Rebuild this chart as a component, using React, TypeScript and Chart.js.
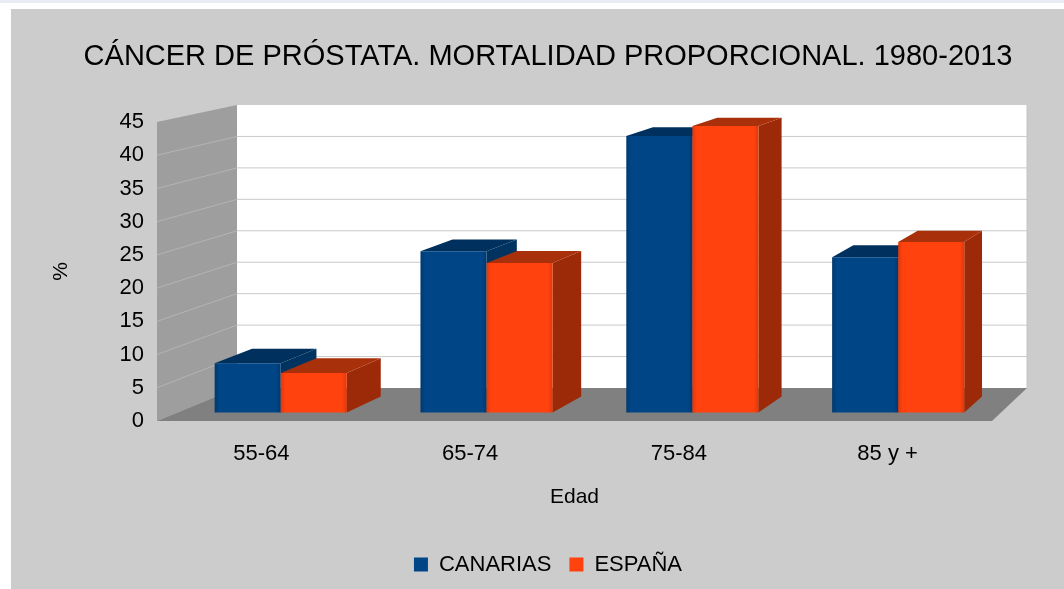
import React, { useEffect, useRef } from "react";
import { Chart, registerables } from "chart.js";

Chart.register(...registerables);

// ---------- data ----------
const TITLE = "CÁNCER DE PRÓSTATA. MORTALIDAD PROPORCIONAL. 1980-2013";
const CATEGORIES = ["55-64", "65-74", "75-84", "85 y +"];
const SERIES_NAMES = ["CANARIAS", "ESPAÑA"];
const CANARIAS = [7.5, 24.6, 42.2, 23.7];
const ESPANA = [6.0, 22.8, 43.7, 26.0];
const Y_MIN = 0;
const Y_MAX = 45;
const Y_STEP = 5;
const X_TITLE = "Edad";
const Y_TITLE = "%";

// ---------- style ----------
const FONT = "'Liberation Sans', Arial, sans-serif";
const FRONT = ["#004586", "#ff420e"];
const EDGE = ["#00396f", "#e2380b"];
const TOP = ["#00305d", "#a8300a"];
const SIDE = ["#00335f", "#9c2a08"];

// pseudo 3D geometry (pixels)
const DEPTH_X_LEFT = 80;
const DEPTH_X_RIGHT = 35;
const DEPTH_Y = 33;
const BACK_SCALE = 283 / 299;
const BAR_D1 = 0.26;
const BAR_D2 = 0.74;

type Pt = [number, number];

function makeProj(chart: any) {
  const { left, right } = chart.chartArea;
  const ys = chart.scales.y;
  const F0 = ys.getPixelForValue(0);
  const BL = left + DEPTH_X_LEFT;
  const BR = right + DEPTH_X_RIGHT;
  return (xf: number, yf: number, d: number): Pt => {
    const xb = BL + ((xf - left) * (BR - BL)) / (right - left);
    const yb = F0 - DEPTH_Y + (yf - F0) * BACK_SCALE;
    return [xf + d * (xb - xf), yf + d * (yb - yf)];
  };
}

function poly(ctx: CanvasRenderingContext2D, pts: Pt[], fill: any) {
  ctx.beginPath();
  ctx.moveTo(pts[0][0], pts[0][1]);
  for (let i = 1; i < pts.length; i++) ctx.lineTo(pts[i][0], pts[i][1]);
  ctx.closePath();
  ctx.fillStyle = fill;
  ctx.fill();
}

function line(ctx: CanvasRenderingContext2D, a: Pt, b: Pt, color: string) {
  ctx.beginPath();
  ctx.moveTo(a[0], a[1]);
  ctx.lineTo(b[0], b[1]);
  ctx.strokeStyle = color;
  ctx.lineWidth = 1;
  ctx.stroke();
}

const scenePlugin = {
  id: "scene3d",
  beforeDraw(chart: any) {
    const ctx: CanvasRenderingContext2D = chart.ctx;
    const { left, right } = chart.chartArea;
    const ys = chart.scales.y;
    const P = makeProj(chart);
    const F0 = ys.getPixelForValue(Y_MIN);
    const FT = ys.getPixelForValue(Y_MAX);
    ctx.save();
    ctx.fillStyle = "#cccccc";
    ctx.fillRect(0, 0, chart.width, chart.height);
    // back wall
    poly(ctx, [P(left, FT, 1), P(right, FT, 1), P(right, F0, 1), P(left, F0, 1)], "#ffffff");
    // left wall
    poly(ctx, [P(left, FT, 0), P(left, FT, 1), P(left, F0, 1), P(left, F0, 0)], "#9e9e9e");
    // floor
    poly(ctx, [P(left, F0, 0), P(right, F0, 0), P(right, F0, 1), P(left, F0, 1)], "#808080");
    // grid
    for (let v = Y_MIN + Y_STEP; v < Y_MAX; v += Y_STEP) {
      const yv = ys.getPixelForValue(v);
      line(ctx, P(left, yv, 1), P(right, yv, 1), "#cacaca");
      line(ctx, P(left, yv, 0), P(left, yv, 1), "#b4b4b4");
    }
    line(ctx, P(right, FT, 1), P(right, F0, 1), "#c4c4c4");
    ctx.restore();
  },
  beforeDatasetsDraw(chart: any) {
    const ctx: CanvasRenderingContext2D = chart.ctx;
    const ys = chart.scales.y;
    const P = makeProj(chart);
    const F0 = ys.getPixelForValue(0);
    const n = chart.data.labels.length;
    ctx.save();
    for (let j = 0; j < n; j++) {
      for (let i = 0; i < chart.data.datasets.length; i++) {
        const meta = chart.getDatasetMeta(i);
        const el: any = meta.data[j];
        if (!el) continue;
        const v = chart.data.datasets[i].data[j];
        const yv = ys.getPixelForValue(v);
        const xl = el.x - el.width / 2;
        const xr = el.x + el.width / 2;
        // right side
        poly(ctx, [P(xr, F0, BAR_D1), P(xr, yv, BAR_D1), P(xr, yv, BAR_D2), P(xr, F0, BAR_D2)], SIDE[i]);
        // top
        poly(ctx, [P(xl, yv, BAR_D1), P(xr, yv, BAR_D1), P(xr, yv, BAR_D2), P(xl, yv, BAR_D2)], TOP[i]);
        // front
        const a = P(xl, F0, BAR_D1);
        const b = P(xr, F0, BAR_D1);
        const c = P(xr, yv, BAR_D1);
        const d = P(xl, yv, BAR_D1);
        const g = ctx.createLinearGradient(a[0], 0, b[0], 0);
        g.addColorStop(0, EDGE[i]);
        g.addColorStop(0.07, FRONT[i]);
        g.addColorStop(0.93, FRONT[i]);
        g.addColorStop(1, EDGE[i]);
        poly(ctx, [a, b, c, d], g);
      }
    }
    ctx.restore();
    return false;
  },
};

export default function App() {
  const ref = useRef<HTMLCanvasElement | null>(null);

  useEffect(() => {
    if (!ref.current) return;
    Chart.defaults.font.family = FONT;
    const chart = new Chart(ref.current, {
      type: "bar",
      data: {
        labels: CATEGORIES,
        datasets: [
          {
            label: SERIES_NAMES[0],
            data: CANARIAS,
            backgroundColor: FRONT[0],
            borderWidth: 0,
            categoryPercentage: 0.642,
            barPercentage: 1,
          },
          {
            label: SERIES_NAMES[1],
            data: ESPANA,
            backgroundColor: FRONT[1],
            borderWidth: 0,
            categoryPercentage: 0.642,
            barPercentage: 1,
          },
        ],
      },
      options: {
        responsive: false,
        animation: false,
        events: [],
        layout: { padding: { left: 21, right: 0, top: 0, bottom: 3.5 } },
        plugins: {
          title: {
            display: true,
            text: TITLE,
            color: "#000",
            font: { size: 29, weight: "normal", family: FONT },
            padding: { top: 31, bottom: 47.2 },
          },
          legend: {
            display: true,
            position: "bottom",
            labels: {
              color: "#000",
              font: { size: 22, family: FONT },
              boxWidth: 14,
              boxHeight: 14,
              padding: 18,
            },
          },
          tooltip: { enabled: false },
        },
        scales: {
          x: {
            grid: { display: false, drawTicks: false },
            border: { display: false },
            ticks: {
              color: "#000",
              font: { size: 22, family: FONT },
              padding: 20,
              maxRotation: 0,
              autoSkip: false,
            },
            title: {
              display: true,
              text: X_TITLE,
              color: "#000",
              font: { size: 21, family: FONT },
              padding: { top: 0, bottom: 25.4 },
            },
            afterFit(s: any) {
              s.height = 114.5;
            },
          },
          y: {
            min: Y_MIN,
            max: Y_MAX,
            grid: { display: false, drawTicks: false },
            border: { display: false },
            ticks: {
              stepSize: Y_STEP,
              color: "#000",
              font: { size: 22, family: FONT },
              padding: 13,
            },
            title: {
              display: true,
              text: Y_TITLE,
              color: "#000",
              font: { size: 21, family: FONT },
              padding: { top: 17, bottom: 0 },
            },
            afterFit(s: any) {
              s.width = 125;
            },
          },
          yR: {
            type: "linear",
            position: "right",
            grid: { display: false, drawTicks: false },
            border: { display: false },
            ticks: { display: false },
            afterFit(s: any) {
              s.width = 72;
            },
          },
        },
      },
      plugins: [scenePlugin],
    } as any);
    return () => chart.destroy();
  }, []);

  return (
    <div
      style={{
        position: "absolute",
        left: 0,
        top: 0,
        width: 1064,
        height: 589,
        background: "#ffffff",
        overflow: "hidden",
      }}
    >
      <div style={{ position: "absolute", left: 0, top: 0, width: 1064, height: 3, background: "#e8edf3" }} />
      <div style={{ position: "absolute", left: 11, top: 9, width: 1053, height: 580 }}>
        <canvas ref={ref} width={1053} height={580} style={{ display: "block" }} />
      </div>
    </div>
  );
}
